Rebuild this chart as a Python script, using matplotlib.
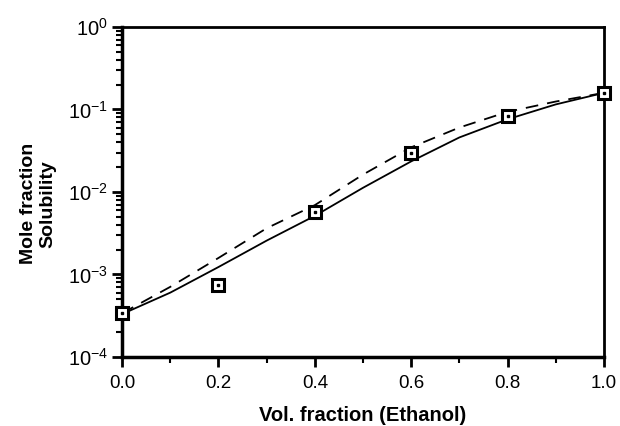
import numpy as np
import matplotlib.pyplot as plt
from matplotlib.ticker import FixedLocator, LogLocator, NullFormatter

plt.rcParams['font.family'] = ['Liberation Sans', 'DejaVu Sans']
plt.rcParams['mathtext.fontset'] = 'custom'
plt.rcParams['mathtext.rm'] = 'Liberation Sans'

# measured points
x_pts = [0.0, 0.2, 0.4, 0.6, 0.8, 1.0]
y_pts = [3.4e-4, 7.5e-4, 5.7e-3, 3.0e-2, 8.2e-2, 1.6e-1]

# model curves (log10 of solubility)
x_curve = [0.0, 0.1, 0.2, 0.3, 0.4, 0.5, 0.6, 0.7, 0.8, 0.9, 1.0]
log_solid = [-3.48, -3.22, -2.91, -2.59, -2.29, -1.95, -1.63, -1.34, -1.12, -0.94, -0.80]
log_dashed = [-3.47, -3.15, -2.80, -2.44, -2.16, -1.79, -1.46, -1.22, -1.03, -0.905, -0.80]

fig = plt.figure(figsize=(6.2, 4.26), dpi=100)
ax = fig.add_axes([0.197, 0.162, 0.777, 0.775])

ax.plot(x_curve, 10 ** np.array(log_solid), color='black', lw=1.3)
ax.plot(x_curve, 10 ** np.array(log_dashed), color='black', lw=1.3, dashes=(7, 5))
ax.plot(x_pts, y_pts, ls='none', marker='s', ms=8.5, mfc='white', mec='black', mew=2.2,
        clip_on=False, zorder=5)
ax.plot(x_pts, y_pts, ls='none', marker='s', ms=2, mfc='black', mec='black',
        clip_on=False, zorder=6)

ax.set_yscale('log')
ax.set_xlim(0, 1)
ax.set_ylim(1e-4, 1)

ax.xaxis.set_major_locator(FixedLocator([0, 0.2, 0.4, 0.6, 0.8, 1.0]))
ax.xaxis.set_minor_locator(FixedLocator([0.1, 0.3, 0.5, 0.7, 0.9]))
ax.set_xticklabels(['0.0', '0.2', '0.4', '0.6', '0.8', '1.0'], fontsize=13.5)

yt = [1e-4, 1e-3, 1e-2, 1e-1, 1]
ax.yaxis.set_major_locator(FixedLocator(yt))
ax.yaxis.set_minor_locator(LogLocator(base=10, subs=np.arange(2, 10)))
ax.yaxis.set_minor_formatter(NullFormatter())
ax.set_yticklabels([r'$\mathregular{10^{-4}}$', r'$\mathregular{10^{-3}}$',
                    r'$\mathregular{10^{-2}}$', r'$\mathregular{10^{-1}}$',
                    r'$\mathregular{10^{0}}$'], fontsize=14.5)

ax.tick_params(which='major', direction='out', length=7, width=2, top=False, right=False)
ax.tick_params(axis='x', which='major', pad=6)
ax.tick_params(axis='y', which='major', pad=3)
ax.tick_params(which='minor', direction='out', length=4, width=1.5, top=False, right=False)

for side in ['left', 'bottom']:
    ax.spines[side].set_linewidth(2.5)
for side in ['top', 'right']:
    ax.spines[side].set_linewidth(2)

ax.set_xlabel('Vol. fraction (Ethanol)', fontsize=14.5, fontweight='bold', labelpad=10)
ax.set_ylabel('Mole fraction\nSolubility', fontsize=14, fontweight='bold')
ax.yaxis.set_label_coords(-0.136, 0.464)

fig.savefig('out.png', dpi=100)
